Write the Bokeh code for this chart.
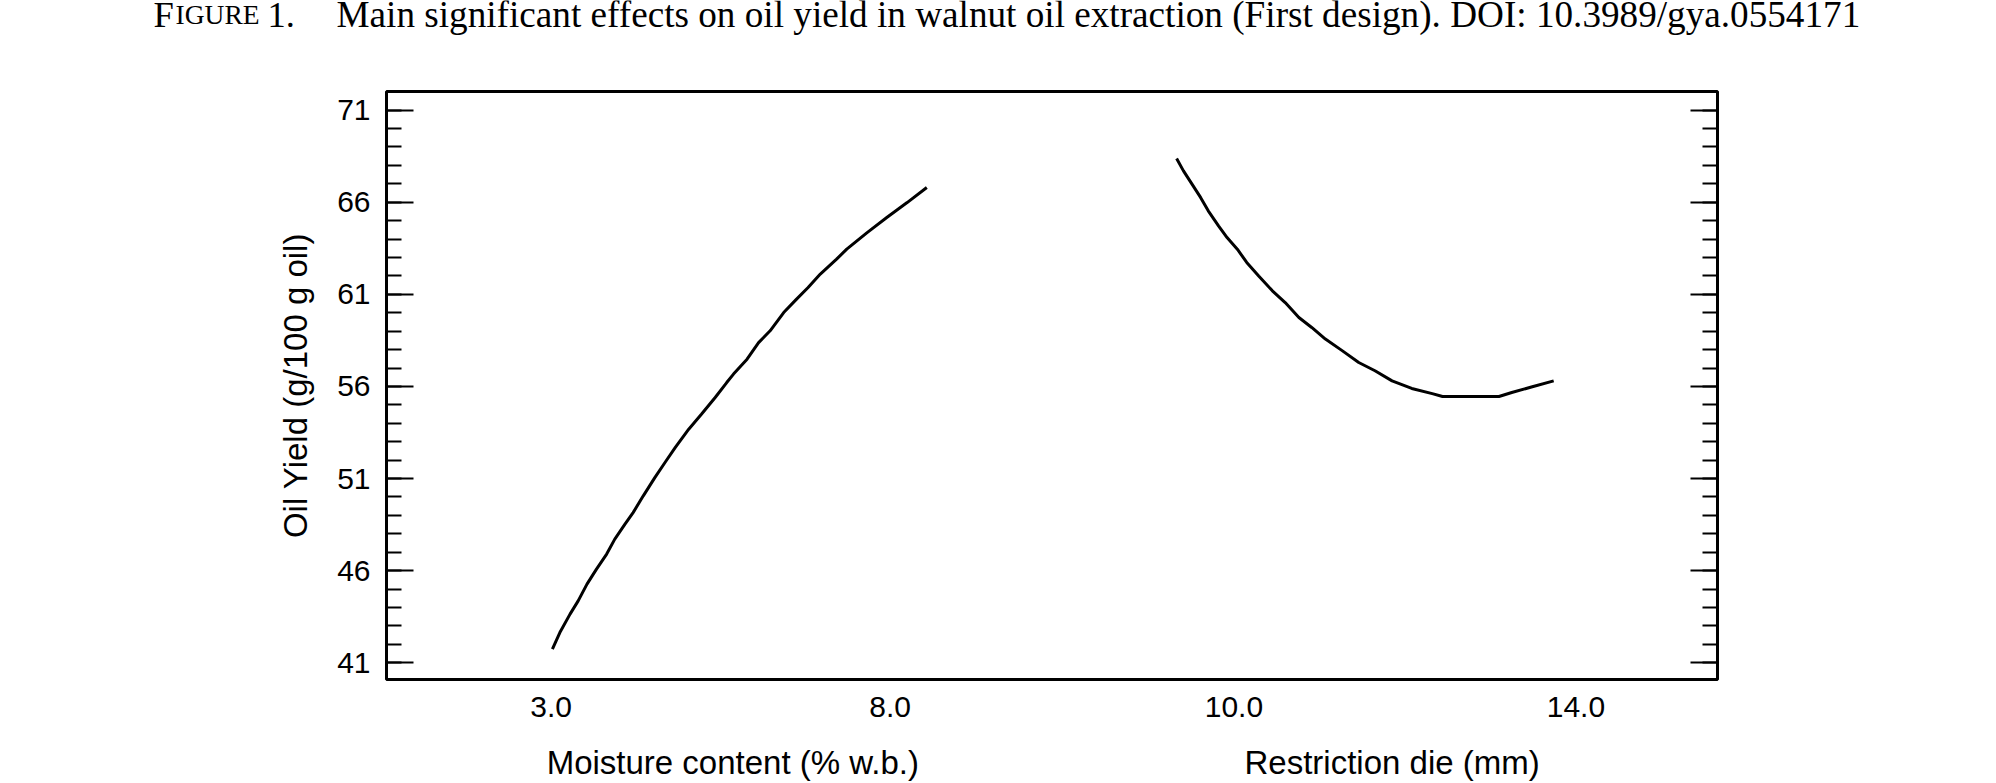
from bokeh.plotting import figure
from bokeh.layouts import column
from bokeh.models import Range1d, LinearAxis, FixedTicker, CustomJSTickFormatter
from bokeh.core.properties import value
from bokeh.embed import file_html
from bokeh.resources import INLINE

# ---- data ----
moisture_x = [3.02, 3.13, 3.28, 3.40, 3.53, 3.67, 3.82, 3.94, 4.09, 4.21,
              4.36, 4.53, 4.68, 4.83, 5.03, 5.22, 5.42, 5.59, 5.69, 5.89,
              6.06, 6.23, 6.43, 6.62, 6.79, 6.97, 7.21, 7.36, 7.66, 7.95,
              8.25, 8.54]
moisture_y = [41.74, 42.64, 43.64, 44.36, 45.27, 46.08, 46.90, 47.71, 48.52,
              49.15, 50.06, 51.05, 51.87, 52.68, 53.68, 54.50, 55.40, 56.21,
              56.67, 57.48, 58.38, 59.02, 60.01, 60.74, 61.37, 62.10, 62.91,
              63.45, 64.35, 65.17, 65.98, 66.80]
die_x = [9.33, 9.41, 9.51, 9.61, 9.70, 9.82, 9.92, 10.04, 10.15, 10.29,
         10.45, 10.60, 10.76, 10.91, 11.07, 11.27, 11.46, 11.65, 11.85,
         12.08, 12.32, 12.44, 13.10, 13.25, 13.49, 13.74]
die_y = [68.37, 67.70, 66.98, 66.26, 65.53, 64.72, 64.08, 63.45, 62.73,
         62.00, 61.19, 60.55, 59.74, 59.20, 58.57, 57.93, 57.30, 56.85,
         56.30, 55.89, 55.61, 55.45, 55.45, 55.67, 55.98, 56.30]
moisture_ticks = [3.0, 8.0]
die_ticks = [10.0, 14.0]
y_ticks = [41, 46, 51, 56, 61, 66, 71]
y_minor = list(range(41, 72))
x_label_moisture = "Moisture content (% w.b.)"
x_label_die = "Restriction die (mm)"
y_label = "Oil Yield (g/100 g oil)"
caption_lead = "F"
caption_smallcaps = "IGURE"
caption_num = "1."
caption_main = ("Main significant effects on oil yield in walnut oil extraction "
                "(First design). DOI: 10.3989/gya.0554171")

SANS = "Liberation Sans"
SERIF = "Liberation Serif"
W = 1996

# shared x ranges (moisture on the default range, die on an extra one)
x_moist = Range1d(0.574, 20.198)
x_die = Range1d(0.089, 15.656)


def bare(fig):
    fig.grid.visible = False
    fig.outline_line_color = None
    fig.background_fill_color = "white"
    fig.border_fill_color = "white"
    return fig


# ---- caption strip ----
cap = bare(figure(width=W, height=48, output_backend="svg", toolbar_location=None,
                  title=None, x_range=Range1d(0, W), y_range=Range1d(48, 0),
                  x_axis_location=None, y_axis_location=None,
                  min_border=0, min_border_left=0, min_border_right=0,
                  min_border_top=0, min_border_bottom=0))
cap.frame_align = False
CAP_Y = 14
cap.text(x=[153], y=[CAP_Y], text=[caption_lead], text_font=value(SERIF),
         text_font_size=value("36.5px"), text_baseline="alphabetic", text_color="black")
cap.text(x=[175], y=[CAP_Y], text=[caption_smallcaps], text_font=value(SERIF),
         text_font_size=value("27.5px"), text_baseline="alphabetic", text_color="black")
cap.text(x=[267], y=[CAP_Y], text=[caption_num], text_font=value(SERIF),
         text_font_size=value("36.5px"), text_baseline="alphabetic", text_color="black")
cap.text(x=[336], y=[CAP_Y], text=[caption_main], text_font=value(SERIF),
         text_font_size=value("37.2px"), text_baseline="alphabetic", text_color="black")

# ---- main plot ----
p = figure(width=W, height=640, output_backend="svg", toolbar_location=None,
           title=None, x_range=x_moist, y_range=Range1d(40.09, 72.01),
           x_axis_location=None, min_border_left=386, min_border_right=279,
           min_border_top=43, min_border_bottom=9)
p.extra_x_ranges = {"die": x_die}
p.grid.visible = False
p.outline_line_color = "black"
p.outline_line_width = 3
p.background_fill_color = "white"
p.border_fill_color = "white"

y_ticker = FixedTicker(ticks=y_ticks, minor_ticks=y_minor)


def style_axis(ax):
    ax.axis_line_color = None
    ax.major_tick_in = 27
    ax.major_tick_out = 0
    ax.minor_tick_in = 15
    ax.minor_tick_out = 0
    ax.major_tick_line_width = 2
    ax.minor_tick_line_width = 2
    ax.major_tick_line_color = "black"
    ax.minor_tick_line_color = "black"


ya = p.yaxis[0]
ya.ticker = y_ticker
style_axis(ya)
ya.major_label_standoff = 16
ya.major_label_text_font = SANS
ya.major_label_text_font_size = "30px"
ya.major_label_text_color = "black"
ya.axis_label = y_label
ya.axis_label_text_font = SANS
ya.axis_label_text_font_size = "33px"
ya.axis_label_text_font_style = "normal"
ya.axis_label_text_color = "black"
ya.axis_label_standoff = 20

ra = LinearAxis(ticker=y_ticker,
                formatter=CustomJSTickFormatter(code="return ''"))
style_axis(ra)
ra.major_label_text_font_size = "0px"
p.add_layout(ra, "right")

p.line(moisture_x, moisture_y, line_color="black", line_width=3)
p.line(die_x, die_y, line_color="black", line_width=3, x_range_name="die")

# ---- x tick labels and axis titles (same x scales as the plot) ----
bot = bare(figure(width=W, height=95, output_backend="svg", toolbar_location=None,
                  title=None, x_range=x_moist, y_range=Range1d(95, 0),
                  x_axis_location=None, y_axis_location=None,
                  min_border_left=386, min_border_right=279,
                  min_border_top=0, min_border_bottom=0))
bot.extra_x_ranges = {"die": x_die}
TICK_Y = 18
LAB_Y = 74
bot.text(x=moisture_ticks, y=[TICK_Y] * len(moisture_ticks),
         text=[f"{t:.1f}" for t in moisture_ticks], text_align="center",
         text_baseline="alphabetic", text_font=value(SANS),
         text_font_size=value("30px"), text_color="black")
bot.text(x=die_ticks, y=[TICK_Y] * len(die_ticks),
         text=[f"{t:.1f}" for t in die_ticks], text_align="center",
         text_baseline="alphabetic", text_font=value(SANS),
         text_font_size=value("30px"), text_color="black", x_range_name="die")
bot.text(x=[(moisture_ticks[0] + moisture_ticks[-1]) / 2 + 0.18], y=[LAB_Y],
         text=[x_label_moisture], text_align="center", text_baseline="alphabetic",
         text_font=value(SANS), text_font_size=value("33px"), text_color="black")
bot.text(x=[(die_ticks[0] + die_ticks[-1]) / 2 - 0.15], y=[LAB_Y],
         text=[x_label_die], text_align="center", text_baseline="alphabetic",
         text_font=value(SANS), text_font_size=value("33px"), text_color="black",
         x_range_name="die")

layout = column(cap, p, bot, spacing=0)
open("out.html", "w").write(file_html(layout, INLINE))
